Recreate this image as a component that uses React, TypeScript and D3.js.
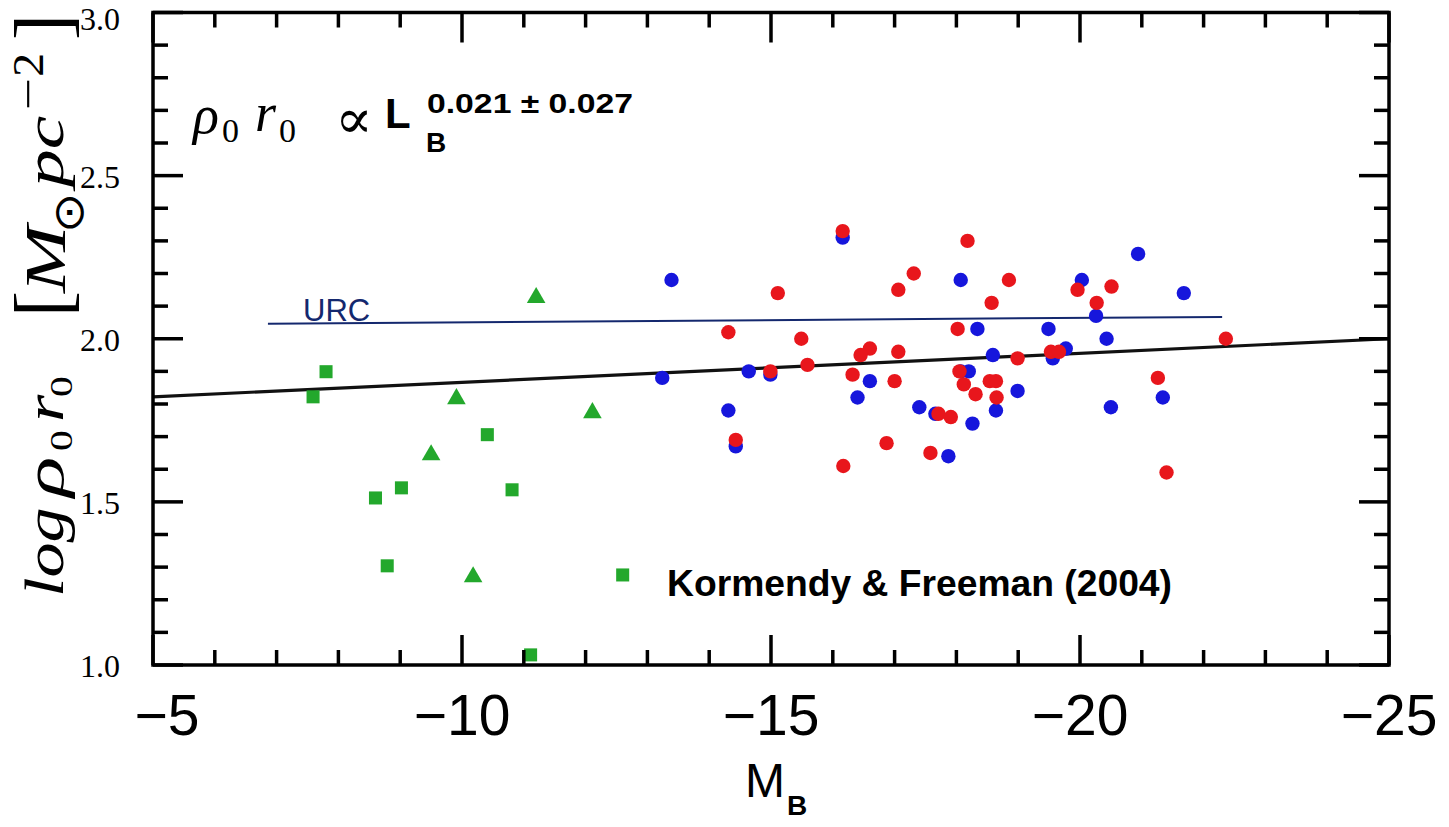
import React from 'react';
import * as d3 from 'd3';

// ---- data ----
const xDomain: [number, number] = [-5, -25];
const yDomain: [number, number] = [1, 3];
const xMajorTicks = [-5, -10, -15, -20, -25];
const xTickLabels = ['\u22125', '\u221210', '\u221215', '\u221220', '\u221225'];
const yMajorTicks = [1.0, 1.5, 2.0, 2.5, 3.0];
const yTickLabels = ['1.0', '1.5', '2.0', '2.5', '3.0'];

const greenSquares: [number, number][] = [
  [-7.59, 1.822], [-7.8, 1.899], [-8.6, 1.512], [-9.02, 1.543], [-8.79, 1.304],
  [-10.41, 1.706], [-10.81, 1.537], [-11.11, 1.031], [-12.6, 1.276],
];
const greenTriangles: [number, number][] = [
  [-11.2, 2.126], [-9.91, 1.816], [-9.5, 1.644], [-12.11, 1.773], [-10.18, 1.27],
];
const bluePoints: [number, number][] = [
  [-13.39, 2.18], [-16.16, 2.31], [-18.07, 2.18], [-18.34, 2.03], [-18.59, 1.95],
  [-13.24, 1.88], [-14.64, 1.9], [-14.31, 1.78], [-14.43, 1.67], [-14.99, 1.89],
  [-16.6, 1.87], [-16.4, 1.82], [-17.4, 1.79], [-17.66, 1.77], [-18.26, 1.74],
  [-17.87, 1.64], [-18.64, 1.78], [-18.99, 1.84], [-18.07, 1.9], [-18.2, 1.9],
  [-20.94, 2.26], [-20.03, 2.18], [-21.68, 2.14], [-20.26, 2.07], [-19.49, 2.03],
  [-20.43, 2.0], [-19.77, 1.97], [-19.56, 1.94], [-21.34, 1.82], [-20.5, 1.79],
];
const redPoints: [number, number][] = [
  [-16.16, 2.33], [-18.18, 2.3], [-17.31, 2.2], [-18.85, 2.18], [-17.06, 2.15],
  [-15.11, 2.14], [-18.57, 2.11], [-18.02, 2.03], [-14.31, 2.02], [-15.49, 2.0],
  [-16.6, 1.97], [-16.45, 1.95], [-17.06, 1.96], [-18.99, 1.94], [-15.59, 1.92],
  [-14.99, 1.9], [-16.32, 1.89], [-17.0, 1.87], [-18.05, 1.9], [-18.12, 1.86],
  [-18.31, 1.83], [-18.54, 1.87], [-18.64, 1.87], [-18.65, 1.82], [-17.71, 1.77],
  [-17.91, 1.76], [-14.43, 1.69], [-16.87, 1.68], [-17.58, 1.65], [-16.17, 1.61],
  [-19.96, 2.15], [-20.51, 2.16], [-20.27, 2.11], [-22.36, 2.0], [-19.53, 1.96],
  [-19.66, 1.96], [-21.26, 1.88], [-21.4, 1.59],
];
const fitLine: [number, number][] = [[-5, 1.822], [-25, 2.0]];
const urcLine: [number, number][] = [[-6.86, 2.046], [-22.3, 2.067]];

// ---- styles ----
const BLUE = '#1616dc';
const RED = '#e8161c';
const GREEN = '#23a82c';
const NAVY = '#14286e';
const SERIF = 'Liberation Serif';
const SANS = 'Liberation Sans';

// pieces of the rotated y-axis title: [text, along, across, size, stretch, italic, family]
type Piece = [string, number, number, number, number, boolean, string];
const yTitlePieces: Piece[] = [
  ['log', 0, 0, 54, 1.3, true, SERIF],
  ['ρ', 100, 0, 54, 1.55, true, SERIF],
  ['0', 146, 9, 32, 1.3, false, SERIF],
  ['r', 175, 0, 54, 1.3, true, SERIF],
  ['0', 200, 9, 32, 1.3, false, SERIF],
  ['[', 280, 6, 78, 1.0, false, SERIF],
  ['M', 304, 2, 56, 1.45, true, SERIF],
  ['⊙', 364, 20, 42, 1.15, false, 'DejaVu Sans'],
  ['pc', 410, 0, 54, 1.4, true, SERIF],
  ['−', 487, -20, 44, 1.3, false, SERIF],
  ['2', 520, -20, 44, 1.1, false, SERIF],
  [']', 557, 6, 78, 1.0, false, SERIF],
];

export default function App() {
  const W = 1449, H = 827;
  const x = d3.scaleLinear().domain(xDomain).range([153, 1389]);
  const y = d3.scaleLinear().domain(yDomain).range([665, 12.5]);
  const xMinor = d3.range(-5, -25.5, -1);
  const yMinor = d3.range(10, 30.5, 1).map((v) => v / 10);
  const line = d3.line<[number, number]>().x((d) => x(d[0])).y((d) => y(d[1]));
  const tri = d3.symbol().type(d3.symbolTriangle).size(150)()!;
  const sq = d3.symbol().type(d3.symbolSquare).size(170)()!;
  const [x0, x1] = x.range();
  const [y0, y1] = y.range();
  const MAJ = 30, MIN = 15;
  const isMajX = (v: number) => Math.abs(v % 5) < 1e-6;
  const isMajY = (v: number) => Math.abs((v * 10) % 5) < 1e-6;

  return (
    <svg width={W} height={H} style={{ position: 'absolute', left: 0, top: 0, background: '#fff' }}>
      <rect width={W} height={H} fill="#fff" />
      {/* fit lines */}
      <path d={line(urcLine)!} stroke={NAVY} strokeWidth={2} fill="none" />
      <path d={line(fitLine)!} stroke="#111" strokeWidth={3.2} fill="none" />
      {/* points */}
      {greenSquares.map((d, i) => (
        <path key={'s' + i} d={sq} transform={`translate(${x(d[0])},${y(d[1])})`} fill={GREEN} />
      ))}
      {greenTriangles.map((d, i) => (
        <path key={'t' + i} d={tri} transform={`translate(${x(d[0])},${y(d[1])})`} fill={GREEN} />
      ))}
      {bluePoints.map((d, i) => (
        <circle key={'b' + i} cx={x(d[0])} cy={y(d[1])} r={7.2} fill={BLUE} />
      ))}
      {redPoints.map((d, i) => (
        <circle key={'r' + i} cx={x(d[0])} cy={y(d[1])} r={7.2} fill={RED} />
      ))}
      {/* ticks */}
      <g stroke="#000" strokeWidth={3.5}>
        {xMinor.map((v) => {
          const L = isMajX(v) ? MAJ : MIN;
          return (
            <g key={'xt' + v}>
              <line x1={x(v)} x2={x(v)} y1={y0} y2={y0 - L} />
              <line x1={x(v)} x2={x(v)} y1={y1} y2={y1 + L} />
            </g>
          );
        })}
        {yMinor.map((v) => {
          const L = isMajY(v) ? MAJ : MIN;
          return (
            <g key={'yt' + v}>
              <line x1={x0} x2={x0 + L} y1={y(v)} y2={y(v)} />
              <line x1={x1} x2={x1 - L} y1={y(v)} y2={y(v)} />
            </g>
          );
        })}
      </g>
      <rect x={x0} y={y1} width={x1 - x0} height={y0 - y1} fill="none" stroke="#000" strokeWidth={3.5} />
      {/* y tick labels */}
      {yMajorTicks.map((v, i) => (
        <text key={'yl' + v} x={120} y={Math.max(y(v) + 12, 30)} textAnchor="end" fontFamily={SERIF} fontSize={32}>
          {yTickLabels[i]}
        </text>
      ))}
      {/* x tick labels */}
      {xMajorTicks.map((v, i) => (
        <text key={'xl' + v} x={x(v) + (i === 0 ? 14 : 0)} y={735} textAnchor="middle" fontFamily={SANS} fontSize={57}>
          {xTickLabels[i]}
        </text>
      ))}
      {/* x axis title */}
      <text x={745} y={797} fontFamily={SANS} fontSize={48}>M</text>
      <text x={787} y={815} fontFamily={SANS} fontWeight="bold" fontSize={28}>B</text>
      {/* y axis title */}
      <g transform="translate(63,597) rotate(-90)">
        {yTitlePieces.map(([t, along, across, size, k, it, fam], i) => (
          <text
            key={'yp' + i}
            transform={`translate(${along},${across}) scale(${k},1)`}
            fontFamily={fam}
            fontStyle={it ? 'italic' : 'normal'}
            fontSize={size}
          >
            {t}
          </text>
        ))}
      </g>
      {/* annotation: rho0 r0 ∝ L_B^... */}
      <text x={193} y={133} fontFamily={SERIF} fontStyle="italic" fontSize={54}>ρ</text>
      <text x={222} y={142} fontFamily={SERIF} fontSize={34}>0</text>
      <text x={255} y={131} fontFamily={SERIF} fontStyle="italic" fontSize={54}>r</text>
      <text x={279} y={142} fontFamily={SERIF} fontSize={34}>0</text>
      <text x={335} y={138} fontFamily="DejaVu Serif" fontSize={56}>∝</text>
      <text x={385} y={128} fontFamily={SANS} fontWeight="bold" fontSize={42}>L</text>
      <text x={426} y={152} fontFamily={SANS} fontWeight="bold" fontSize={28}>B</text>
      <text x={427} y={113} fontFamily={SANS} fontWeight="bold" fontSize={27} textLength={206} lengthAdjust="spacingAndGlyphs">
        0.021 ± 0.027
      </text>
      {/* URC label */}
      <text x={303} y={321} fontFamily={SANS} fontSize={31} fill={NAVY}>URC</text>
      {/* reference label */}
      <text x={667} y={596} fontFamily={SANS} fontWeight="bold" fontSize={37} textLength={505} lengthAdjust="spacingAndGlyphs">
        Kormendy &amp; Freeman (2004)
      </text>
    </svg>
  );
}
